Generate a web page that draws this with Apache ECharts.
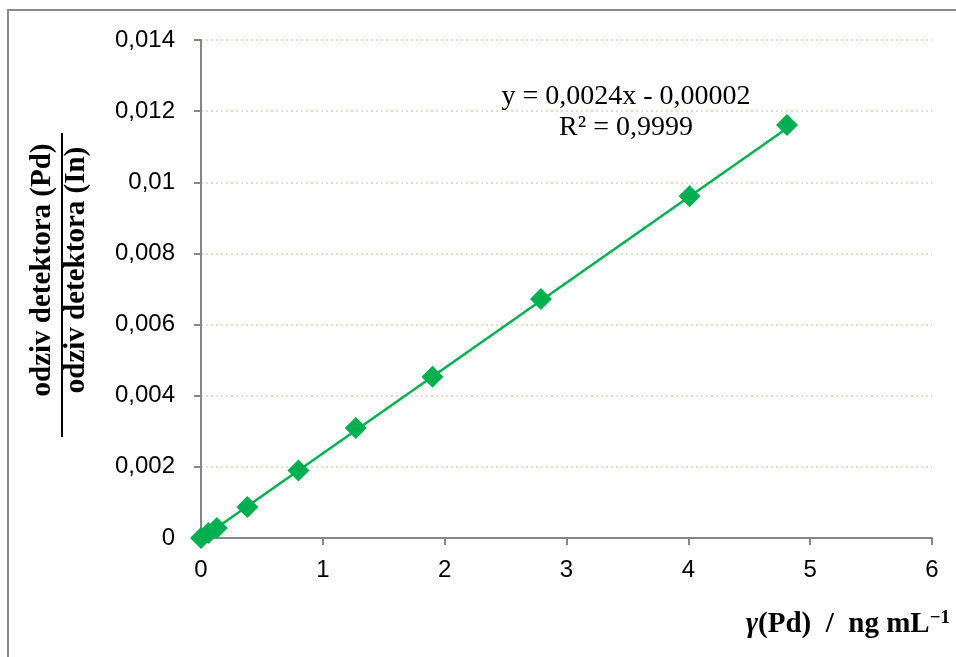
<!DOCTYPE html>
<html>
<head>
<meta charset="utf-8">
<script src="https://cdn.jsdelivr.net/npm/echarts@6/dist/echarts.min.js"></script>
<style>html,body{margin:0;padding:0;background:#fff}#c{width:956px;height:657px}</style>
</head>
<body>
<div id="c"></div>
<script>
// Data
const xValues = [0, 0.06, 0.13, 0.38, 0.80, 1.27, 1.90, 2.79, 4.01, 4.81];
const yValues = [0, 0.00014, 0.00028, 0.00087, 0.0019, 0.00309, 0.00453, 0.00672, 0.00961, 0.01161];
// Trendline end points (y = 0.0024x - 0.00002)
const trendX = [0, 4.81];
const trendY = [-0.00002, 0.01152];
const equationLines = ['y = 0,0024x - 0,00002', 'R² = 0,9999'];
const yTitleTop = 'odziv detektora (Pd)';
const yTitleBottom = 'odziv detektora (In)';

const chart = echarts.init(document.getElementById('c'), null, {renderer: 'canvas'});
const green = '#00B050';
const serif = '"Liberation Serif", "DejaVu Serif", serif';
const sans = '"Liberation Sans", Arial, sans-serif';

chart.setOption({
  animation: false,
  backgroundColor: '#fff',
  grid: {left: 201, right: 24, top: 40, bottom: 119, containLabel: false},
  xAxis: {
    type: 'value', min: 0, max: 6, interval: 1,
    axisLine: {onZero: false, lineStyle: {color: '#868686', width: 2}},
    axisTick: {show: true, length: 7, lineStyle: {color: '#868686', width: 2}},
    axisLabel: {color: '#000', fontFamily: sans, fontSize: 24, margin: 20},
    splitLine: {show: false}
  },
  yAxis: {
    type: 'value', min: 0, max: 0.014, interval: 0.002,
    axisLine: {show: true, lineStyle: {color: '#868686', width: 2}},
    axisTick: {show: true, length: 7, lineStyle: {color: '#868686', width: 2}},
    axisLabel: {color: '#000', fontFamily: sans, fontSize: 24, margin: 26,
      formatter: v => String(+v.toFixed(3)).replace('.', ',')},
    splitLine: {show: true, lineStyle: {color: '#e3e0c8', type: [2, 3], width: 2}}
  },
  series: [
    {
      type: 'line',
      data: trendX.map((x, i) => [x, trendY[i]]),
      symbol: 'none',
      lineStyle: {color: green, width: 2.5},
      z: 2
    },
    {
      type: 'scatter',
      data: xValues.map((x, i) => [x, yValues[i]]),
      symbol: 'diamond',
      symbolSize: 22,
      itemStyle: {color: green, opacity: 1},
      z: 3
    }
  ],
  graphic: [
    {type: 'rect', shape: {x: 8, y: 10, width: 1000, height: 700},
     style: {fill: null, stroke: '#8a8a8a', lineWidth: 2}, silent: true},
    {type: 'text', x: 43, y: 270, rotation: Math.PI / 2,
     style: {text: yTitleTop, fontFamily: serif, fontWeight: 'bold', fontSize: 29, fill: '#000', align: 'center', verticalAlign: 'middle'}},
    {type: 'line', shape: {x1: 62, y1: 133, x2: 62, y2: 437}, style: {stroke: '#000', lineWidth: 2}},
    {type: 'text', x: 77, y: 270, rotation: Math.PI / 2,
     style: {text: yTitleBottom, fontFamily: serif, fontWeight: 'bold', fontSize: 29, fill: '#000', align: 'center', verticalAlign: 'middle'}},
    {type: 'text', x: 626, y: 97,
     style: {text: equationLines[0], fontFamily: serif, fontSize: 28, fill: '#000', align: 'center', verticalAlign: 'middle'}},
    {type: 'text', x: 626, y: 128,
     style: {text: equationLines[1], fontFamily: serif, fontSize: 28, fill: '#000', align: 'center', verticalAlign: 'middle'}},
    {type: 'text', x: 950, y: 625,
     style: {
       text: '{g|γ}{b|(Pd)  /  ng mL}{s|−1}',
       align: 'right', verticalAlign: 'middle',
       rich: {
         g: {fontFamily: serif, fontStyle: 'italic', fontWeight: 'bold', fontSize: 29, fill: '#000', lineHeight: 32},
         b: {fontFamily: serif, fontWeight: 'bold', fontSize: 29, fill: '#000', lineHeight: 32},
         s: {fontFamily: serif, fontWeight: 'bold', fontSize: 19, fill: '#000', verticalAlign: 'top', lineHeight: 18}
       }
     }}
  ]
});
</script>
</body>
</html>
